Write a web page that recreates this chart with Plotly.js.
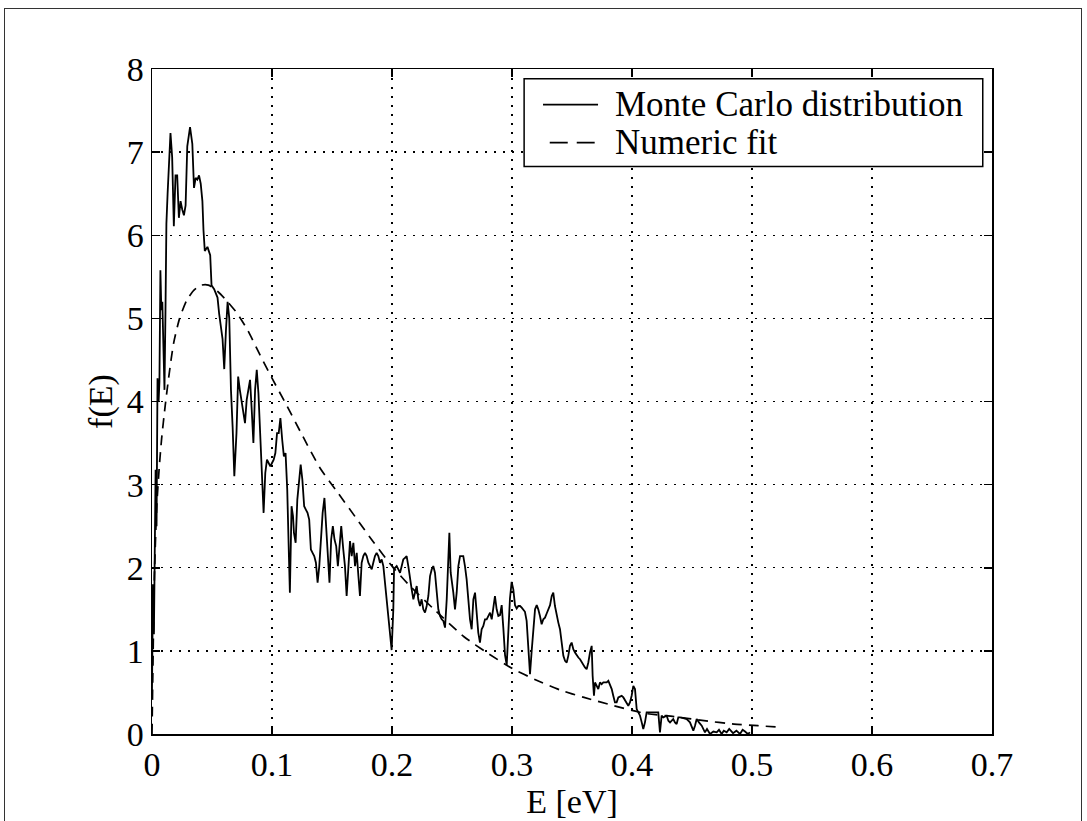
<!DOCTYPE html>
<html>
<head>
<meta charset="utf-8">
<script src="https://cdn.plot.ly/plotly-3.0.1.min.js"></script>
<style>
  html, body { margin: 0; padding: 0; background: #fff; overflow: hidden; }
  #chart { width: 1087px; height: 821px; }
  #frame { position: absolute; left: 4px; top: 8px; width: 1078px; height: 830px;
           border: 1px solid #333; pointer-events: none; box-sizing: border-box; }
</style>
</head>
<body>
<div id="chart"></div>
<div id="frame"></div>
<script>
// Monte Carlo energy distribution (E in eV, f(E))
const mcE = [
  0, 0.0008, 0.0016, 0.0024, 0.003, 0.0038, 0.0046, 0.0055, 0.0062, 0.007,
  0.0078, 0.0086, 0.0094, 0.0104, 0.0112, 0.012, 0.013, 0.014, 0.0154, 0.0168,
  0.0182, 0.0196, 0.021, 0.0224, 0.0238, 0.0252, 0.0266, 0.028, 0.0294, 0.0317,
  0.0336, 0.035, 0.0364, 0.0378, 0.0392, 0.0406, 0.042, 0.0429, 0.044, 0.0462,
  0.0485, 0.0496, 0.0518, 0.0546, 0.056, 0.0588, 0.0602, 0.0616, 0.063, 0.0644,
  0.0658, 0.0672, 0.0686, 0.0704, 0.0718, 0.0732, 0.0746, 0.076, 0.0775, 0.0789,
  0.0803, 0.0817, 0.0831, 0.0845, 0.0859, 0.0873, 0.0887, 0.0901, 0.0915, 0.093,
  0.0944, 0.0958, 0.0972, 0.0986, 0.1, 0.1014, 0.1028, 0.1042, 0.1056, 0.107,
  0.1085, 0.1099, 0.1113, 0.1127, 0.1141, 0.1149, 0.1163, 0.1175, 0.1183, 0.1197,
  0.1211, 0.1225, 0.1239, 0.1253, 0.1268, 0.1282, 0.1296, 0.131, 0.1324, 0.1338,
  0.1352, 0.1366, 0.138, 0.1394, 0.1408, 0.1422, 0.1437, 0.1451, 0.1465, 0.1479,
  0.1493, 0.1507, 0.1521, 0.1535, 0.1549, 0.1563, 0.1577, 0.1594, 0.1608, 0.1622,
  0.1636, 0.165, 0.1664, 0.1678, 0.1692, 0.1706, 0.172, 0.1733, 0.1747, 0.1761,
  0.1775, 0.1789, 0.1803, 0.1817, 0.1831, 0.1844, 0.1858, 0.1872, 0.1886, 0.19,
  0.1914, 0.1928, 0.1942, 0.1956, 0.1969, 0.1983, 0.1997, 0.2011, 0.2017, 0.2025,
  0.2039, 0.2053, 0.2067, 0.2081, 0.2094, 0.2108, 0.2122, 0.2136, 0.215, 0.2164,
  0.2178, 0.2192, 0.2206, 0.2219, 0.2233, 0.2247, 0.2261, 0.2275, 0.2289, 0.2303,
  0.2317, 0.2331, 0.2344, 0.2358, 0.2372, 0.2386, 0.24, 0.2414, 0.2428, 0.2442,
  0.2456, 0.2469, 0.2478, 0.2489, 0.2497, 0.2511, 0.2525, 0.2539, 0.2553, 0.2567,
  0.2581, 0.2594, 0.2608, 0.2622, 0.2636, 0.265, 0.2664, 0.2678, 0.2692, 0.2706,
  0.2719, 0.2733, 0.2747, 0.2761, 0.2775, 0.2789, 0.2803, 0.2817, 0.2831, 0.2844,
  0.2858, 0.2872, 0.2886, 0.29, 0.2914, 0.2928, 0.2942, 0.2956, 0.2969, 0.2983,
  0.2997, 0.3011, 0.3025, 0.3039, 0.3053, 0.3067, 0.3081, 0.3094, 0.3108, 0.3122,
  0.3136, 0.315, 0.3164, 0.3178, 0.3192, 0.3206, 0.3219, 0.3233, 0.3247, 0.3261,
  0.3275, 0.3289, 0.3303, 0.3317, 0.3331, 0.3344, 0.3358, 0.3372, 0.3386, 0.34,
  0.3414, 0.3428, 0.3442, 0.3456, 0.3469, 0.3483, 0.3497, 0.3511, 0.3525, 0.3539,
  0.3553, 0.3567, 0.3581, 0.3594, 0.3608, 0.3622, 0.3636, 0.365, 0.3664, 0.3672,
  0.3683, 0.3692, 0.3706, 0.3719, 0.3733, 0.3747, 0.3761, 0.3775, 0.3789, 0.3803,
  0.3817, 0.3831, 0.3844, 0.3858, 0.3872, 0.3886, 0.39, 0.3914, 0.3928, 0.3942,
  0.3956, 0.3969, 0.3983, 0.3997, 0.4011, 0.4025, 0.4039, 0.4053, 0.4067, 0.4081,
  0.4094, 0.4108, 0.4122, 0.415, 0.4178, 0.42, 0.4219, 0.4233, 0.4247, 0.4261,
  0.4289, 0.4303, 0.4317, 0.4331, 0.4344, 0.4358, 0.4372, 0.4386, 0.44, 0.4428,
  0.4456, 0.4483, 0.4511, 0.4525, 0.4539, 0.4558, 0.4581, 0.4608, 0.4625, 0.465,
  0.4678, 0.4706, 0.4725, 0.4747, 0.4765, 0.4789, 0.481, 0.4842, 0.487, 0.49,
  0.4922, 0.4942, 0.4965, 0.4983
];
const mcF = [
  0.53, 1.8, 1.2, 2.6, 3.18, 2.5, 4.28, 4.0, 4.24, 5.58,
  5.1, 5.2, 4.5, 4.14, 5.05, 6.14, 6.5, 6.89, 7.23, 6.94,
  6.11, 6.72, 6.72, 6.21, 6.41, 6.31, 6.24, 6.36, 7.07, 7.3,
  7.1, 6.57, 6.69, 6.67, 6.72, 6.62, 6.41, 6.06, 5.81, 5.86,
  5.76, 5.4, 5.35, 5.25, 5.05, 4.75, 4.39, 4.85, 5.2, 5.0,
  4.14, 3.69, 3.1, 3.62, 4.3, 4.14, 4.02, 3.9, 3.74, 4.02,
  4.14, 4.26, 3.9, 3.5, 4.14, 4.38, 4.1, 3.62, 3.02, 2.66,
  3.14, 3.3, 3.26, 3.22, 3.26, 3.3, 3.38, 3.62, 3.62, 3.8,
  3.54, 3.34, 3.38, 2.94, 2.14, 1.7, 2.74, 2.62, 2.42, 2.3,
  2.82, 3.02, 3.24, 3.06, 2.74, 2.7, 2.66, 2.58, 2.22, 2.18,
  2.14, 2.06, 1.82, 2.02, 2.42, 2.66, 2.84, 2.5, 2.14, 1.82,
  2.34, 2.5, 2.34, 2.26, 2.02, 2.26, 2.5, 2.22, 2.02, 1.66,
  2.02, 2.32, 2.14, 2.3, 2.02, 2.18, 1.9, 1.66, 2.06, 2.14,
  2.18, 2.14, 2.06, 2.02, 1.98, 2.06, 2.14, 2.18, 2.14, 2.06,
  2.1, 2.02, 1.82, 1.58, 1.45, 1.17, 1.01, 1.5, 1.98, 2.0,
  2.02, 1.98, 1.94, 2.02, 2.1, 2.12, 2.14, 2.02, 1.86, 1.74,
  1.62, 1.7, 1.78, 1.62, 1.54, 1.62, 1.5, 1.46, 1.54, 1.66,
  1.9, 1.98, 2.02, 1.94, 1.7, 1.5, 1.42, 1.38, 1.36, 1.28,
  1.62, 2.1, 2.42, 1.94, 1.82, 1.7, 1.5, 1.7, 2.02, 2.14,
  2.14, 2.14, 2.02, 1.86, 1.62, 1.38, 1.26, 1.62, 1.7, 1.38,
  1.22, 1.1, 1.26, 1.3, 1.38, 1.38, 1.42, 1.46, 1.38, 1.52,
  1.66, 1.5, 1.42, 1.43, 1.55, 1.27, 0.95, 0.83, 1.19, 1.63,
  1.83, 1.74, 1.55, 1.51, 1.54, 1.54, 1.52, 1.5, 1.47, 1.36,
  0.99, 0.72, 1.0, 1.25, 1.5, 1.55, 1.5, 1.42, 1.32, 1.38,
  1.4, 1.45, 1.5, 1.55, 1.66, 1.7, 1.54, 1.42, 1.34, 1.26,
  1.1, 0.94, 0.88, 0.86, 0.94, 1.06, 1.1, 1.02, 0.98, 0.94,
  0.92, 0.9, 0.86, 0.82, 0.8, 0.78, 0.86, 0.98, 1.06, 0.7,
  0.46, 0.62, 0.58, 0.54, 0.62, 0.6, 0.62, 0.62, 0.62, 0.64,
  0.6, 0.54, 0.46, 0.38, 0.38, 0.44, 0.45, 0.46, 0.44, 0.4,
  0.36, 0.34, 0.38, 0.46, 0.58, 0.54, 0.3, 0.26, 0.22, 0.14,
  0.06, 0.14, 0.26, 0.26, 0.26, 0.26, 0.26, 0.02, 0.22, 0.2,
  0.22, 0.16, 0.14, 0.16, 0.18, 0.14, 0.12, 0.2, 0.2, 0.19,
  0.18, 0.14, 0.04, 0.1, 0.18, 0.14, 0.1, 0.02, 0.06, 0.0,
  0.03, 0.02, 0.05, 0.0, 0.04, 0.02, 0.06, 0.01, 0.04, 0.0,
  0.05, 0.03, 0.0, 0.02
];

// Numeric fit curve
const fitE = [
  0, 0.002, 0.004, 0.006, 0.008, 0.011, 0.014, 0.018, 0.023, 0.029,
  0.035, 0.041, 0.047, 0.055, 0.063, 0.071, 0.08, 0.09, 0.1, 0.112,
  0.125, 0.14, 0.155, 0.17, 0.185, 0.2, 0.215, 0.235, 0.26, 0.28,
  0.3, 0.32, 0.34, 0.36, 0.385, 0.41, 0.435, 0.46, 0.485, 0.505, 0.525
];
const fitF = [
  0, 1.9, 2.75, 3.2, 3.55, 3.95, 4.3, 4.7, 5.0, 5.22,
  5.34, 5.4, 5.4, 5.32, 5.2, 5.06, 4.85, 4.56, 4.28, 3.96,
  3.6, 3.2, 2.9, 2.6, 2.3, 2.02, 1.78, 1.5, 1.17, 0.97,
  0.79, 0.65, 0.53, 0.44, 0.34, 0.25, 0.21, 0.16, 0.12, 0.1, 0.08
];

const xTicks = [0, 0.1, 0.2, 0.3, 0.4, 0.5, 0.6, 0.7];
const xTickText = ['0', '0.1', '0.2', '0.3', '0.4', '0.5', '0.6', '0.7'];
const yTicks = [0, 1, 2, 3, 4, 5, 6, 7, 8];
const seriesNames = ['Monte Carlo distribution', 'Numeric fit'];

const serif = 'Liberation Serif, Times New Roman, serif';
const ink = '#000';

const traces = [
  {
    x: mcE, y: mcF, type: 'scatter', mode: 'lines',
    name: seriesNames[0], showlegend: false,
    line: { color: ink, width: 1.8 }
  },
  {
    x: fitE, y: fitF, type: 'scatter', mode: 'lines',
    name: seriesNames[1], showlegend: false,
    line: { color: ink, width: 1.7, dash: '10px,7px', shape: 'spline', smoothing: 0.6 }
  }
];

const axisCommon = {
  showline: true, linecolor: ink, linewidth: 1.5, mirror: 'ticks',
  ticks: 'inside', ticklen: 8, tickwidth: 1.5, tickcolor: ink,
  showgrid: true, gridcolor: ink, gridwidth: 1.3, griddash: '2px,7px',
  zeroline: false,
  tickfont: { family: serif, size: 34, color: ink }
};

// Boxed key in the upper right corner (paper coordinates)
const key = { x0: 0.443, x1: 0.989, y0: 0.8533, y1: 0.9854,
              rows: [0.9463, 0.8892], sx0: 0.4655, sx1: 0.531, tx: 0.549 };

const shapes = [
  { type: 'rect', xref: 'paper', yref: 'paper', layer: 'above',
    x0: key.x0, x1: key.x1, y0: key.y0, y1: key.y1,
    fillcolor: '#fff', line: { color: ink, width: 1.5 } },
  { type: 'line', xref: 'paper', yref: 'paper', layer: 'above',
    x0: key.sx0, x1: key.sx1, y0: key.rows[0], y1: key.rows[0],
    line: { color: ink, width: 1.8 } },
  { type: 'line', xref: 'paper', yref: 'paper', layer: 'above',
    x0: key.sx0 + 0.008, x1: key.sx1 - 0.004, y0: key.rows[1], y1: key.rows[1],
    line: { color: ink, width: 1.8, dash: '18px,9px' } }
];

const annotations = seriesNames.map((name, i) => ({
  text: name, xref: 'paper', yref: 'paper', x: key.tx, y: key.rows[i],
  xanchor: 'left', yanchor: 'middle', showarrow: false,
  font: { family: serif, size: 35, color: ink }
}));

const layout = {
  width: 1087, height: 821,
  margin: { l: 152, r: 95, t: 69, b: 87 },
  paper_bgcolor: '#fff', plot_bgcolor: '#fff',
  showlegend: false,
  shapes: shapes,
  annotations: annotations,
  xaxis: Object.assign({}, axisCommon, {
    range: [0, 0.7], tickvals: xTicks, ticktext: xTickText,
    title: { text: 'E [eV]', font: { family: serif, size: 34, color: ink }, standoff: 2 }
  }),
  yaxis: Object.assign({}, axisCommon, {
    range: [0, 8], tickvals: yTicks,
    title: { text: 'f(E)', font: { family: serif, size: 34, color: ink }, standoff: 4 }
  })
};

Plotly.newPlot('chart', traces, layout, { displayModeBar: false, staticPlot: true });
</script>
</body>
</html>
